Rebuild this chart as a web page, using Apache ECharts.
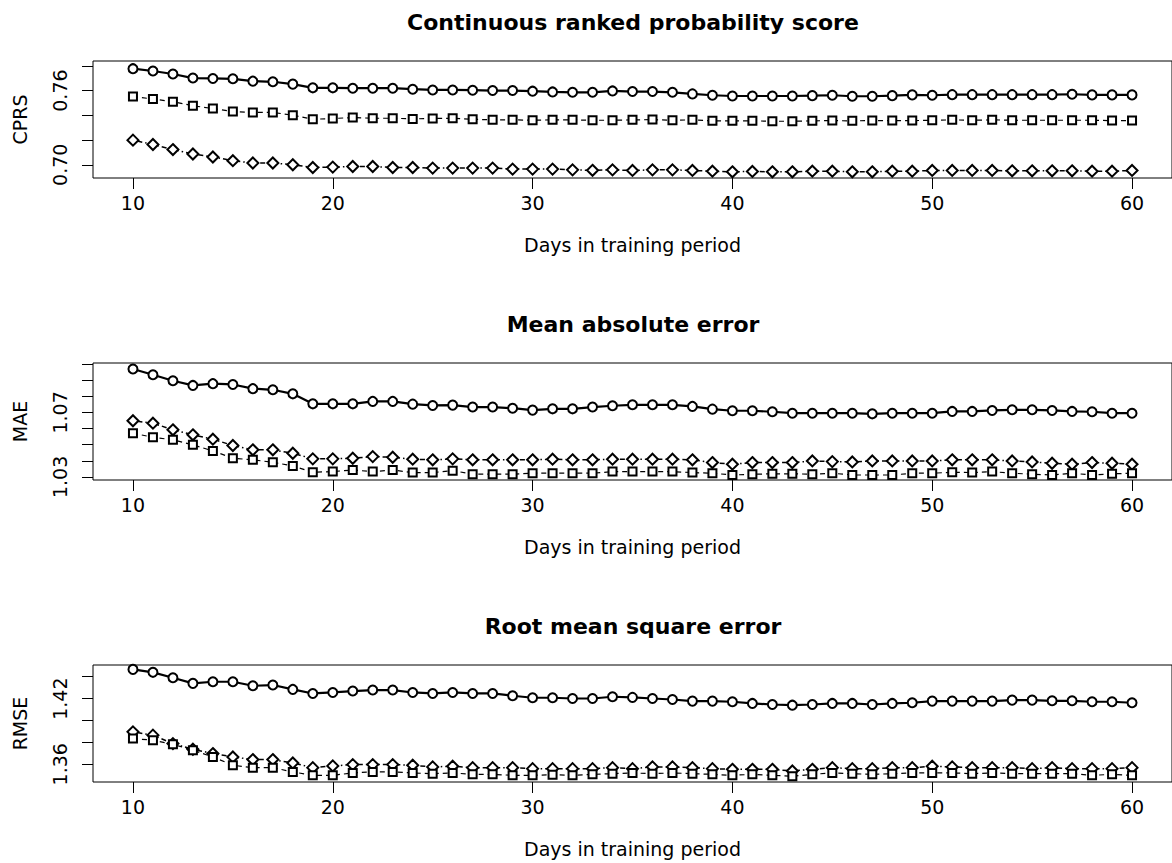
<!DOCTYPE html>
<html>
<head>
<meta charset="utf-8">
<script src="https://cdn.jsdelivr.net/npm/echarts@6/dist/echarts.min.js"></script>
<style>
html,body{margin:0;padding:0;background:#fff;}
#chart{width:1172px;height:863px;}
</style>
</head>
<body>
<div id="chart"></div>
<script>
// ---- data ----
const days = [10,11,12,13,14,15,16,17,18,19,20,21,22,23,24,25,26,27,28,29,30,31,32,33,34,35,36,37,38,39,40,41,42,43,44,45,46,47,48,49,50,51,52,53,54,55,56,57,58,59,60];
const xTicks = [10,20,30,40,50,60];

const titles = ["Continuous ranked probability score", "Mean absolute error", "Root mean square error"];
const yNames = ["CPRS", "MAE", "RMSE"];
const xName = "Days in training period";

const crpsCircle = [0.7777,0.7758,0.7734,0.7701,0.7698,0.7695,0.7676,0.7671,0.7652,0.7622,0.7622,0.7619,0.7619,0.7619,0.7611,0.7605,0.7605,0.7603,0.7600,0.7600,0.7595,0.7589,0.7586,0.7586,0.7597,0.7592,0.7592,0.7586,0.7573,0.7562,0.7556,0.7556,0.7556,0.7556,0.7559,0.7562,0.7554,0.7554,0.7559,0.7565,0.7562,0.7567,0.7567,0.7567,0.7567,0.7567,0.7567,0.7570,0.7565,0.7565,0.7565];
const crpsSquare = [0.7551,0.7532,0.7510,0.7477,0.7455,0.7431,0.7423,0.7423,0.7401,0.7368,0.7374,0.7382,0.7376,0.7376,0.7371,0.7374,0.7376,0.7368,0.7363,0.7363,0.7360,0.7363,0.7363,0.7360,0.7360,0.7363,0.7365,0.7360,0.7363,0.7355,0.7355,0.7355,0.7352,0.7352,0.7355,0.7357,0.7355,0.7357,0.7357,0.7357,0.7360,0.7363,0.7360,0.7363,0.7360,0.7360,0.7360,0.7360,0.7360,0.7357,0.7357];
const crpsDiamond = [0.7199,0.7164,0.7123,0.7087,0.7063,0.7033,0.7014,0.7014,0.7000,0.6978,0.6981,0.6986,0.6986,0.6978,0.6978,0.6973,0.6973,0.6973,0.6973,0.6965,0.6965,0.6965,0.6959,0.6955,0.6959,0.6954,0.6959,0.6959,0.6954,0.6948,0.6943,0.6946,0.6943,0.6943,0.6948,0.6948,0.6943,0.6943,0.6948,0.6948,0.6954,0.6954,0.6954,0.6954,0.6951,0.6951,0.6951,0.6951,0.6948,0.6948,0.6954];

const maeCircle = [1.0969,1.0933,1.0896,1.0867,1.0878,1.0873,1.0847,1.0840,1.0815,1.0753,1.0753,1.0753,1.0768,1.0768,1.0751,1.0743,1.0745,1.0733,1.0733,1.0726,1.0714,1.0722,1.0722,1.0733,1.0741,1.0747,1.0747,1.0747,1.0737,1.0720,1.0710,1.0710,1.0704,1.0695,1.0695,1.0695,1.0695,1.0691,1.0695,1.0695,1.0695,1.0706,1.0706,1.0712,1.0716,1.0716,1.0712,1.0706,1.0704,1.0695,1.0695];
const maeDiamond = [1.0648,1.0633,1.0592,1.0561,1.0534,1.0495,1.0468,1.0468,1.0447,1.0412,1.0412,1.0416,1.0426,1.0422,1.0410,1.0406,1.0412,1.0406,1.0406,1.0406,1.0406,1.0410,1.0406,1.0406,1.0410,1.0410,1.0410,1.0410,1.0406,1.0389,1.0379,1.0389,1.0389,1.0389,1.0399,1.0395,1.0393,1.0399,1.0399,1.0399,1.0399,1.0406,1.0406,1.0406,1.0399,1.0393,1.0385,1.0379,1.0389,1.0385,1.0379];
const maeSquare = [1.0571,1.0546,1.0530,1.0499,1.0461,1.0416,1.0406,1.0391,1.0368,1.0329,1.0333,1.0343,1.0333,1.0343,1.0327,1.0327,1.0339,1.0317,1.0317,1.0317,1.0323,1.0323,1.0323,1.0323,1.0333,1.0333,1.0333,1.0333,1.0327,1.0323,1.0312,1.0317,1.0319,1.0319,1.0317,1.0323,1.0312,1.0312,1.0312,1.0323,1.0323,1.0329,1.0327,1.0333,1.0323,1.0317,1.0312,1.0323,1.0312,1.0319,1.0323];

const rmseCircle = [1.4467,1.4440,1.4391,1.4339,1.4354,1.4354,1.4317,1.4324,1.4284,1.4247,1.4256,1.4269,1.4278,1.4278,1.4256,1.4247,1.4256,1.4247,1.4247,1.4226,1.4208,1.4208,1.4201,1.4201,1.4217,1.4211,1.4201,1.4192,1.4177,1.4177,1.4171,1.4156,1.4146,1.4140,1.4146,1.4156,1.4156,1.4146,1.4156,1.4162,1.4177,1.4177,1.4177,1.4177,1.4186,1.4186,1.4180,1.4180,1.4171,1.4171,1.4162];
const rmseDiamond = [1.3896,1.3866,1.3789,1.3737,1.3698,1.3667,1.3643,1.3643,1.3612,1.3569,1.3585,1.3597,1.3597,1.3597,1.3591,1.3576,1.3582,1.3569,1.3569,1.3569,1.3560,1.3560,1.3560,1.3560,1.3569,1.3560,1.3576,1.3576,1.3569,1.3560,1.3554,1.3554,1.3554,1.3539,1.3554,1.3569,1.3560,1.3560,1.3569,1.3569,1.3582,1.3576,1.3569,1.3569,1.3569,1.3560,1.3569,1.3560,1.3560,1.3560,1.3569];
const rmseSquare = [1.3835,1.3820,1.3783,1.3728,1.3667,1.3591,1.3569,1.3569,1.3530,1.3499,1.3499,1.3521,1.3530,1.3530,1.3521,1.3514,1.3521,1.3508,1.3508,1.3499,1.3499,1.3505,1.3499,1.3508,1.3514,1.3521,1.3514,1.3521,1.3514,1.3508,1.3499,1.3508,1.3499,1.3490,1.3508,1.3521,1.3514,1.3508,1.3514,1.3521,1.3521,1.3521,1.3514,1.3521,1.3514,1.3514,1.3514,1.3514,1.3499,1.3508,1.3499];

const yTicks = [[0.70,0.72,0.74,0.76,0.78],[1.03,1.04,1.05,1.06,1.07,1.08,1.09,1.10],[1.36,1.38,1.40,1.42,1.44]];
const yLabels = [[0.70,0.76],[1.03,1.07],[1.36,1.42]];
const yRange = [[0.6893,0.7839],[1.0281,1.1006],[1.3438,1.4507]];

// ---- layout ----
const gridLeft = 93, gridWidth = 1083, gridHeight = 117;
const gridTops = [61, 363, 665];
const FONT = "DejaVu Sans";

const panels = [
  [crpsCircle, crpsSquare, crpsDiamond],
  [maeCircle, maeSquare, maeDiamond],
  [rmseCircle, rmseSquare, rmseDiamond]
];
const styles = [
  {symbol:'circle', symbolSize:9, lineType:'solid', lineWidth:2.2},
  {symbol:'rect', symbolSize:8, lineType:[5,4], lineWidth:1.2},
  {symbol:'diamond', symbolSize:11, lineType:[1.5,3,5,3], lineWidth:1.5}
];

const grid = [], xAxis = [], yAxis = [], series = [], graphic = [];
for (let p = 0; p < 3; p++) {
  grid.push({left: gridLeft, top: gridTops[p], width: gridWidth, height: gridHeight,
    show: true, borderColor: '#000', borderWidth: 1, backgroundColor: 'transparent'});
  xAxis.push({type: 'value', gridIndex: p, min: 8, max: 62,
    name: xName, nameLocation: 'middle', nameGap: 57,
    nameTextStyle: {fontFamily: FONT, fontSize: 19, color: '#000'},
    axisLine: {show: false},
    splitLine: {show: false},
    axisTick: {show: true, inside: false, length: 11, customValues: xTicks, lineStyle: {color: '#000', width: 1}},
    axisLabel: {show: true, customValues: xTicks, margin: 15, fontFamily: FONT, fontSize: 19, color: '#000'}
  });
  yAxis.push({type: 'value', gridIndex: p, min: yRange[p][0], max: yRange[p][1],
    name: yNames[p], nameLocation: 'middle', nameGap: 64, nameRotate: 90,
    nameTextStyle: {fontFamily: FONT, fontSize: 19, color: '#000'},
    axisLine: {show: false},
    splitLine: {show: false},
    axisTick: {show: true, inside: false, length: 11, customValues: yTicks[p], lineStyle: {color: '#000', width: 1}},
    axisLabel: {show: true, customValues: yLabels[p], rotate: 90, margin: 24, fontFamily: FONT, fontSize: 19, color: '#000',
      formatter: v => v.toFixed(2)}
  });
  for (let s = 0; s < 3; s++) {
    const st = styles[s];
    const vals = panels[p][s];
    series.push({type: 'line', xAxisIndex: p, yAxisIndex: p,
      data: days.map((d, i) => [d, vals[i]]),
      symbol: st.symbol, symbolSize: st.symbolSize, showAllSymbol: true,
      lineStyle: {color: '#000', width: st.lineWidth, type: st.lineType},
      itemStyle: {color: '#fff', borderColor: '#000', borderWidth: 2},
      z: 3 - s, silent: true, animation: false});
  }
  graphic.push({type: 'text', x: 633, y: gridTops[p] - 39,
    style: {text: titles[p], fontFamily: FONT, fontSize: 22, fontWeight: 'bold', fill: '#000',
      align: 'center', verticalAlign: 'middle'}});
}

const chart = echarts.init(document.getElementById('chart'), null, {renderer: 'svg'});
chart.setOption({
  animation: false,
  backgroundColor: '#fff',
  grid, xAxis, yAxis, series, graphic
});
</script>
</body>
</html>
